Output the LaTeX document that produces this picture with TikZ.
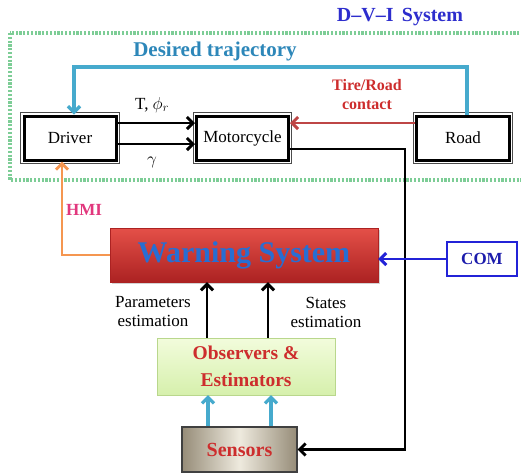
\documentclass[tikz,border=0pt]{standalone}
\usepackage{fontspec}
\setmainfont{Liberation Serif}
\usetikzlibrary{positioning}
\usetikzlibrary{arrows.meta, shadows}

\definecolor{dviblue}{RGB}{45,45,205}
\definecolor{trajblue}{RGB}{45,135,185}
\definecolor{trajline}{RGB}{70,170,205}
\definecolor{tirered}{RGB}{205,45,45}
\definecolor{tireline}{RGB}{190,70,70}
\definecolor{hmiorange}{RGB}{245,150,80}
\definecolor{hmipink}{RGB}{225,55,125}
\definecolor{warntop}{RGB}{228,80,72}
\definecolor{warnbot}{RGB}{172,34,34}
\definecolor{warntext}{RGB}{40,110,210}
\definecolor{comblue}{RGB}{35,35,215}
\definecolor{obstop}{RGB}{242,252,220}
\definecolor{obsbot}{RGB}{214,240,172}
\definecolor{obsedge}{RGB}{185,215,140}
\definecolor{sensin}{RGB}{238,234,222}
\definecolor{sensout}{RGB}{150,140,120}
\definecolor{dvigreen}{RGB}{125,205,150}

\begin{document}
\begin{tikzpicture}[x=1pt,y=-1pt,
  txt/.style={font=\fontsize{17}{19}\selectfont},
  dblbox/.style={txt,fill=white,draw=black,line width=3pt,minimum width=#1,minimum height=44pt,inner sep=0pt,
    preaction={draw,line width=7.4pt,black!70},preaction={draw,line width=5.6pt,white}},
  blkarrow/.style={line width=2.9pt,-{Straight Barb[length=6pt,width=12pt]}},
  cyanarrow/.style={trajline,line width=3.2pt,-{Straight Barb[length=6pt,width=12pt]}}]
\useasboundingbox (0,0) rectangle (521,475);

% D-V-I frame
\draw[dvigreen,line width=3.6pt,dash pattern=on 2.2pt off 1.6pt] (10,33) rectangle (530,180);
\node[font=\fontsize{20}{22}\selectfont\bfseries,text=dviblue] (dvi) at (400,17) {D--V--I\, System};
\node[font=\fontsize{21}{23}\selectfont\bfseries,text=trajblue] (traj) at (215,51) {Desired trajectory};

% blocks
\node[dblbox=92pt] (driver) at (70,138) {Driver};
\node[dblbox=92pt] (moto) at (242.5,138) {Motorcycle};
\node[dblbox=93pt] (road) at (463,138) {Road};
\node[draw=warnbot,top color=warntop,bottom color=warnbot,minimum width=268pt,minimum height=54pt,
  drop shadow={shadow xshift=2pt,shadow yshift=-2pt,opacity=0.35},
  font=\fontsize{30}{33}\selectfont\bfseries,text=warntext] (warn) at (244,255) {Warning System};
\node[draw=comblue,line width=1.8pt,fill=white,minimum width=70pt,minimum height=34pt,
  font=\fontsize{17}{19}\selectfont\bfseries,text=comblue!80!black] (com) at (482,259) {COM};
\node[draw=obsedge,top color=obstop,bottom color=obsbot,minimum width=178pt,minimum height=57pt,align=center,
  font=\fontsize{19.5}{27}\selectfont\bfseries,text=tirered] (obs) at (246,366.5) {Observers \&\\Estimators};
\node[draw=black!75,line width=1.2pt,left color=sensout,right color=sensout,middle color=sensin,minimum width=115pt,minimum height=45pt,
  font=\fontsize{20}{22}\selectfont\bfseries,text=tirered] (sens) at (239.5,449.5) {Sensors};

% connectors
\coordinate (trajtop) at (0,67);
\coordinate (turn) at (405,300);
\draw[cyanarrow] ([xshift=4pt]road.north) -- ([xshift=4pt]road.north |- trajtop) -| ([xshift=4pt]driver.north);
\draw[blkarrow] ([yshift=15pt]driver.east) -- ([yshift=15pt]moto.west);
\draw[blkarrow] ([yshift=-6pt]driver.east) -- ([yshift=-6pt]moto.west);
\draw[blkarrow,tireline] ([yshift=15pt]road.west) -- ([yshift=15pt]moto.east);
\draw[blkarrow] ([yshift=-11pt]moto.east) -| (turn) |- (sens.east);
\draw[blkarrow,hmiorange] (warn.west) -| ([xshift=-8pt]driver.south);
\draw[blkarrow,comblue] (com.west) -- (com.west -| warn.east);
\draw[blkarrow] ([xshift=-39pt]obs.north) -- ([xshift=-39pt]obs.north |- warn.south);
\draw[blkarrow] ([xshift=22pt]obs.north) -- ([xshift=22pt]obs.north |- warn.south);
\draw[cyanarrow] ([xshift=-31.5pt]sens.north) -- ([xshift=-31.5pt]sens.north |- obs.south);
\draw[cyanarrow] ([xshift=31.5pt]sens.north) -- ([xshift=31.5pt]sens.north |- obs.south);

% labels
\node[txt] (tphi) at (152,105) {T, $\phi_r$};
\node[txt] (gam) at (152,162) {$\gamma$};
\node[font=\fontsize{16}{19}\selectfont\bfseries,text=tirered,align=center] (tire) at (367,95) {Tire/Road\\contact};
\node[font=\fontsize{17}{19}\selectfont\bfseries,text=hmipink] (hmi) at (84,210) {HMI};
\node[txt,align=center] (par) at (153,312) {Parameters\\estimation};
\node[txt,align=center] (sta) at (326,312) {States\\estimation};

\end{tikzpicture}
\end{document}
